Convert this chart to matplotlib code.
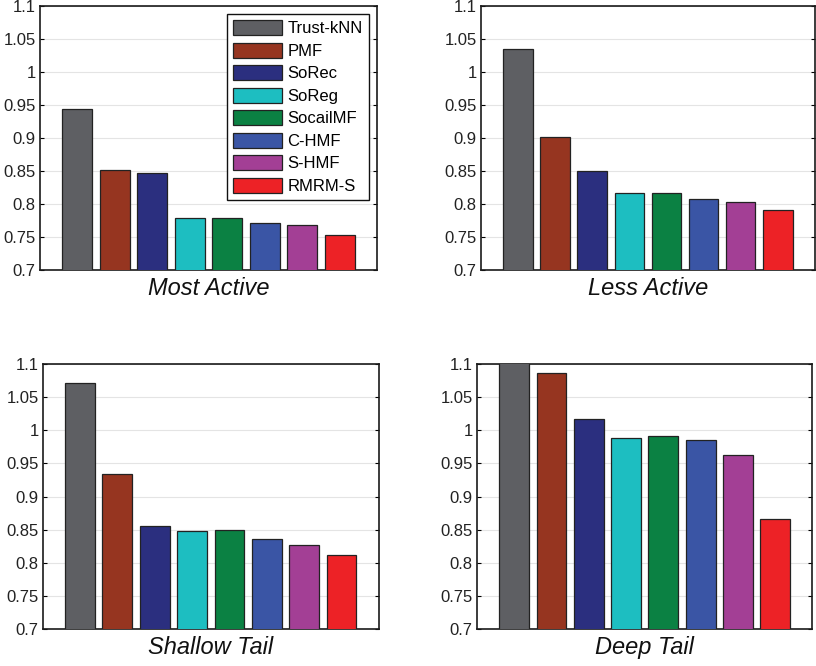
import matplotlib
matplotlib.use('Agg')
from matplotlib import pyplot as plt
import numpy as np

plt.rcParams['font.family'] = ['Liberation Sans', 'DejaVu Sans']

methods = ['Trust-kNN', 'PMF', 'SoRec', 'SoReg', 'SocailMF',
           'C-HMF', 'S-HMF', 'RMRM-S']
colors = ['#5e5f63', '#963520', '#2b2f7f', '#1dbec1', '#0b8143',
          '#3a55a5', '#a33f95', '#ed2226']

most_active = [0.944, 0.852, 0.847, 0.779, 0.779, 0.772, 0.768, 0.753]
less_active = [1.035, 0.902, 0.851, 0.817, 0.817, 0.808, 0.803, 0.791]
shallow_tail = [1.072, 0.934, 0.855, 0.848, 0.850, 0.835, 0.826, 0.811]
deep_tail = [1.125, 1.087, 1.018, 0.989, 0.992, 0.986, 0.963, 0.866]

titles = ['Most Active', 'Less Active', 'Shallow Tail', 'Deep Tail']
yticks = [0.7, 0.75, 0.8, 0.85, 0.9, 0.95, 1.0, 1.05, 1.1]
yticklabels = ['0.7', '0.75', '0.8', '0.85', '0.9', '0.95', '1', '1.05', '1.1']

# axes rectangles (left, bottom, width, height) in figure fraction
positions = [
    [0.049, 0.594, 0.413, 0.397],
    [0.5895, 0.594, 0.409, 0.397],
    [0.0523, 0.056, 0.412, 0.397],
    [0.5846, 0.056, 0.411, 0.397],
]


def draw_panel(ax, values, title, legend=False):
    x = np.arange(1, len(values) + 1)
    bars = ax.bar(x, values, width=0.8, color=colors,
                  edgecolor='#222222', linewidth=0.9, zorder=3)
    ax.set_xlim(0.0, 9.0)
    ax.set_ylim(0.7, 1.1)
    ax.set_yticks(yticks)
    ax.set_yticklabels(yticklabels, fontsize=12, color='#222222')
    ax.set_xticks([])
    ax.yaxis.grid(True, color='#e4e4e4', linewidth=0.8, zorder=0)
    ax.tick_params(axis='y', direction='in', length=3, width=0.8,
                   left=True, right=True, pad=3)
    for side in ['left', 'right', 'top', 'bottom']:
        ax.spines[side].set_linewidth(1.2)
        ax.spines[side].set_color('#1a1a1a')
    ax.set_xlabel(title, fontsize=17, style='italic', labelpad=5,
                  color='#111111')
    if legend:
        leg = ax.legend(bars, methods, loc='upper right', fontsize=12,
                        fancybox=False, framealpha=1, edgecolor='#111111',
                        handlelength=2.95, handleheight=1.0,
                        handletextpad=0.35, labelspacing=0.38,
                        borderpad=0.35, borderaxespad=0.5)
        leg.get_frame().set_linewidth(1.0)


fig = plt.figure(figsize=(8.16, 6.66), dpi=100)
data = [most_active, less_active, shallow_tail, deep_tail]
for i, (vals, title, pos) in enumerate(zip(data, titles, positions)):
    ax = fig.add_axes(pos)
    draw_panel(ax, vals, title, legend=(i == 0))

fig.savefig('out.png', dpi=100)
